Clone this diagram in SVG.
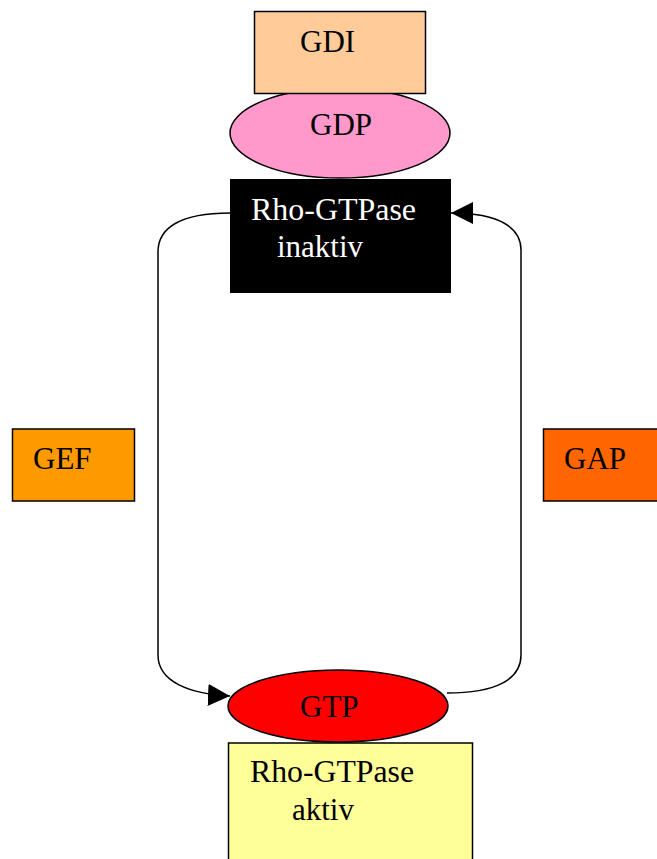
<svg xmlns="http://www.w3.org/2000/svg" width="657" height="859" viewBox="0 0 657 859">
<defs>
<style>
.n{stroke:#000;stroke-width:1.5}
.t{font-family:"Liberation Serif","Times New Roman",serif;font-size:31px;fill:#000}
.w{fill:#fff}
.c{fill:none;stroke:#000;stroke-width:1.5}
</style>
<marker id="ah" viewBox="0 0 10 10" refX="10" refY="5" markerWidth="22" markerHeight="22" markerUnits="userSpaceOnUse" orient="auto">
<path d="M0,0 L10,5 L0,10 z" fill="#000"/>
</marker>
</defs>
<rect width="657" height="859" fill="#fff"/>
<g id="gdp">
<ellipse class="n" cx="340" cy="133" rx="110" ry="45" fill="#FF99CC"/>
<text class="t" x="310" y="135">GDP</text>
</g>
<g id="gdi">
<rect class="n" x="254.5" y="11.5" width="171" height="82" fill="#FFCC99"/>
<text class="t" x="300" y="52">GDI</text>
</g>
<g id="inaktiv">
<rect x="230" y="179" width="221" height="114" fill="#000"/>
<text class="t w" x="251" y="220" textLength="165" lengthAdjust="spacingAndGlyphs">Rho-GTPase</text>
<text class="t w" x="277" y="257">inaktiv</text>
</g>
<g id="gtp">
<ellipse class="n" cx="338" cy="706" rx="110" ry="36" fill="#FF0000"/>
<text class="t" x="300" y="717">GTP</text>
</g>
<g id="aktiv">
<rect class="n" x="228.5" y="743" width="244" height="120" fill="#FFFF99"/>
<text class="t" x="250" y="782" textLength="164" lengthAdjust="spacingAndGlyphs">Rho-GTPase</text>
<text class="t" x="292" y="820">aktiv</text>
</g>
<g id="gef">
<rect class="n" x="12.5" y="429" width="122" height="72" fill="#FF9900"/>
<text class="t" x="33" y="469">GEF</text>
</g>
<g id="gap">
<rect class="n" x="543.5" y="429" width="120" height="72" fill="#FF6600"/>
<text class="t" x="564" y="469">GAP</text>
</g>
<g id="connectors">
<path class="c" d="M230,213 C180,213 158,228 158,252 L158,655 C158,682 190,694 230,696" marker-end="url(#ah)"/>
<path class="c" d="M447,693 C495,693 521,680 521,655 L521,250 C521,228 500,213 451,213" marker-end="url(#ah)"/>
</g>
</svg>
